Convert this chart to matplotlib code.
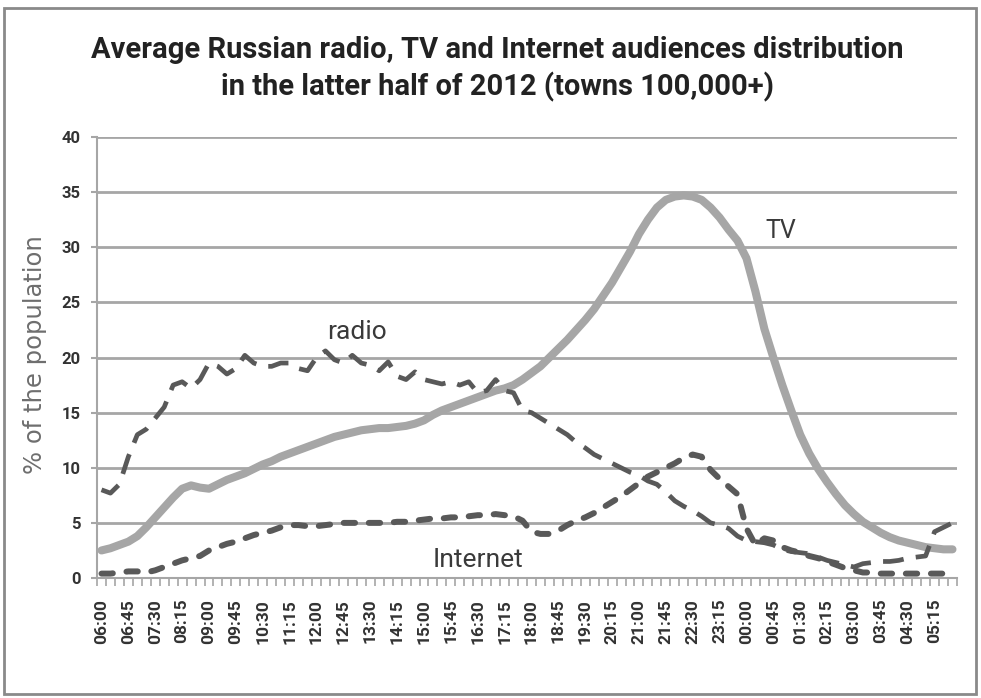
import matplotlib
matplotlib.use("Agg")
import matplotlib.pyplot as plt
from matplotlib.patches import Rectangle

# Quarter-hour slots from 06:00 through 05:45 the next morning
times = [f"{(6 + (15 * k) // 60) % 24:02d}:{(15 * k) % 60:02d}" for k in range(96)]

tv = [2.5, 2.7, 3.0, 3.3, 3.8, 4.6, 5.5, 6.4, 7.3, 8.1,
      8.4, 8.2, 8.1, 8.5, 8.9, 9.2, 9.5, 9.9, 10.3, 10.6,
      11.0, 11.3, 11.6, 11.9, 12.2, 12.5, 12.8, 13.0, 13.2, 13.4,
      13.5, 13.6, 13.6, 13.7, 13.8, 14.0, 14.3, 14.8, 15.2, 15.5,
      15.8, 16.1, 16.4, 16.7, 17.0, 17.2, 17.5, 18.0, 18.6, 19.2,
      20.0, 20.8, 21.6, 22.5, 23.4, 24.4, 25.6, 26.8, 28.2, 29.6,
      31.2, 32.5, 33.6, 34.3, 34.6, 34.7, 34.6, 34.3, 33.6, 32.7,
      31.6, 30.6, 29.0, 26.0, 22.6, 20.0, 17.5, 15.2, 13.0, 11.3,
      9.9, 8.7, 7.6, 6.6, 5.8, 5.1, 4.6, 4.1, 3.7, 3.4,
      3.2, 3.0, 2.8, 2.7, 2.6, 2.6]

radio = [8.0, 7.7, 8.5, 11.0, 13.0, 13.5, 14.5, 15.5, 17.5, 17.8,
         17.2, 18.0, 19.5, 19.2, 18.5, 19.0, 20.2, 19.5, 19.2, 19.2,
         19.5, 19.5, 19.0, 18.8, 20.0, 20.6, 19.8, 19.5, 20.2, 19.5,
         19.3, 18.8, 19.6, 18.3, 18.0, 18.7, 18.0, 17.8, 17.6, 17.8,
         17.5, 17.8, 16.8, 17.0, 18.0, 17.0, 16.8, 15.2, 15.0, 14.5,
         14.0, 13.5, 13.0, 12.3, 11.8, 11.2, 10.8, 10.4, 10.0, 9.6,
         9.3, 8.8, 8.5, 7.8, 7.0, 6.5, 6.1, 5.6, 5.0, 4.8,
         4.5, 3.8, 3.4, 3.3, 3.2, 3.0, 2.6, 2.4, 2.3, 2.2,
         1.9, 1.6, 1.4, 1.2, 1.0, 1.3, 1.4, 1.5, 1.5, 1.6,
         1.8, 1.9, 2.0, 4.2, 4.6, 5.0]

internet = [0.4, 0.4, 0.5, 0.6, 0.6, 0.5, 0.7, 1.0, 1.3, 1.6,
            1.8, 2.0, 2.5, 2.8, 3.1, 3.3, 3.6, 3.9, 4.1, 4.3,
            4.6, 4.8, 4.8, 4.7, 4.7, 4.8, 4.9, 5.0, 5.0, 5.0,
            5.0, 5.0, 5.0, 5.1, 5.1, 5.2, 5.3, 5.4, 5.4, 5.5,
            5.5, 5.6, 5.7, 5.7, 5.8, 5.7, 5.6, 5.2, 4.2, 4.0,
            4.0, 4.3, 4.8, 5.2, 5.5, 5.9, 6.4, 6.9, 7.4, 8.0,
            8.6, 9.2, 9.6, 10.0, 10.4, 10.9, 11.2, 11.0, 9.8, 9.0,
            8.3, 7.6, 4.5, 3.0, 3.6, 3.4, 2.8, 2.5, 2.3, 2.0,
            1.8, 1.5, 1.2, 0.9, 0.7, 0.5, 0.5, 0.4, 0.4, 0.4,
            0.4, 0.4, 0.4, 0.4, 0.4, 0.4]

y_ticks = [0, 5, 10, 15, 20, 25, 30, 35, 40]

bold_family = ["Roboto", "DejaVu Sans"]
plain_family = ["Roboto", "DejaVu Sans"]
grid_grey = "#a6a6a6"

fig = plt.figure(figsize=(9.81, 6.98), dpi=100)
ax = fig.add_axes([0.0989, 0.1719, 0.9755 - 0.0989, 0.8037 - 0.1719])

x = list(range(len(times)))
ax.plot(x, tv, color="#a6a6a6", lw=5.8, solid_capstyle="round",
        solid_joinstyle="round", zorder=3)
ax.plot(x, radio, color="#595959", lw=3.4, dashes=(4.4, 2.6),
        dash_capstyle="butt", zorder=4)
ax.plot(x, internet, color="#595959", lw=4.3, dashes=(1.9, 2.3),
        dash_capstyle="round", zorder=4)

ax.set_xlim(-0.5, len(times) - 0.5)
ax.set_ylim(0, 40)
ax.set_yticks(y_ticks)
ax.yaxis.grid(True, color=grid_grey, lw=2.0)
ax.set_axisbelow(True)

ax.set_xticks(x[::3])
ax.set_xticklabels(times[::3], rotation=90, fontsize=12.5, fontweight="bold",
                   family=bold_family, color="#333333")
ax.set_xticks([k - 0.5 for k in range(len(times) + 1)], minor=True)
ax.tick_params(axis="x", which="major", length=0, pad=15)
ax.tick_params(axis="x", which="minor", length=6, width=1.2, color=grid_grey)
ax.tick_params(axis="y", length=4, width=1.5, color=grid_grey, pad=8)
for lbl in ax.get_yticklabels():
    lbl.set_fontsize(12)
    lbl.set_fontweight("bold")
    lbl.set_family(bold_family)
    lbl.set_color("#333333")

for side in ("top", "right"):
    ax.spines[side].set_visible(False)
for side in ("left", "bottom"):
    ax.spines[side].set_color(grid_grey)
    ax.spines[side].set_linewidth(1.5)

fig.text(35 / 981, 1 - 355 / 698, "% of the population", rotation=90,
         ha="center", va="center", fontsize=17.5, color="#6e6e6e",
         family=["DejaVu Sans"])

ax.text(28.5, 22.3, "radio", fontsize=19, color="#3a3a3a",
        family=plain_family, ha="center", va="center")
ax.text(75.8, 31.5, "TV", fontsize=18, color="#3a3a3a",
        family=plain_family, ha="center", va="center")
ax.text(42.0, 1.6, "Internet", fontsize=19, color="#3a3a3a",
        family=plain_family, ha="center", va="center")

fig.text(0.507, 0.928, "Average Russian radio, TV and Internet audiences distribution",
         ha="center", va="center", fontsize=21, fontweight="bold",
         family=bold_family, color="#222222")
fig.text(0.507, 0.875, "in the latter half of 2012 (towns 100,000+)",
         ha="center", va="center", fontsize=21, fontweight="bold",
         family=bold_family, color="#222222")

fig.patches.append(Rectangle((0.004, 0.006), 0.991, 0.982, transform=fig.transFigure,
                             fill=False, edgecolor="#8a8a8a", lw=2.0))

fig.savefig("out.png", dpi=100)
